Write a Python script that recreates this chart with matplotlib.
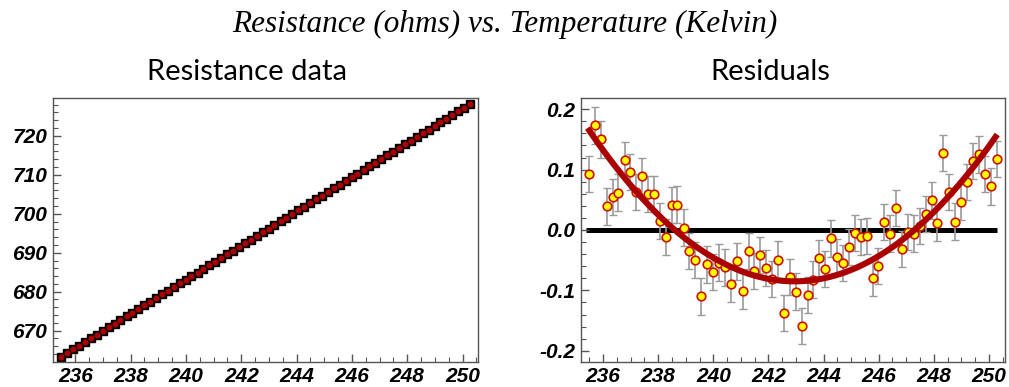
"""Resistance vs temperature: raw data and residuals of the linear fit."""

import matplotlib
matplotlib.use("Agg")
import matplotlib.pyplot as plt
import numpy as np
from matplotlib.ticker import MultipleLocator, FormatStrFormatter

# temperatures (K)
temperature = [
    235.49, 235.70, 235.92, 236.13, 236.35, 236.56, 236.78, 236.99, 237.20, 237.42,
    237.63, 237.85, 238.06, 238.28, 238.49, 238.70, 238.92, 239.13, 239.35, 239.56,
    239.78, 239.99, 240.20, 240.42, 240.63, 240.85, 241.06, 241.28, 241.49, 241.70,
    241.92, 242.13, 242.35, 242.56, 242.78, 242.99, 243.20, 243.42, 243.63, 243.85,
    244.06, 244.28, 244.49, 244.70, 244.92, 245.13, 245.35, 245.56, 245.78, 245.99,
    246.20, 246.42, 246.63, 246.85, 247.06, 247.28, 247.49, 247.70, 247.92, 248.13,
    248.35, 248.56, 248.78, 248.99, 249.20, 249.42, 249.63, 249.85, 250.06, 250.28,
]

# resistance (ohms)
resistance = [
    663.33, 664.27, 665.21, 666.15, 667.09, 668.02, 668.96, 669.90, 670.84, 671.78,
    672.72, 673.66, 674.60, 675.53, 676.47, 677.41, 678.35, 679.29, 680.23, 681.17,
    682.11, 683.04, 683.98, 684.92, 685.86, 686.80, 687.74, 688.68, 689.62, 690.56,
    691.49, 692.43, 693.37, 694.31, 695.25, 696.19, 697.13, 698.07, 699.00, 699.94,
    700.88, 701.82, 702.76, 703.70, 704.64, 705.58, 706.51, 707.45, 708.39, 709.33,
    710.27, 711.21, 712.15, 713.09, 714.03, 714.96, 715.90, 716.84, 717.78, 718.72,
    719.66, 720.60, 721.54, 722.47, 723.41, 724.35, 725.29, 726.23, 727.17, 728.11,
]

# residuals of the linear fit (ohms)
residuals = [
    0.093, 0.173, 0.150, 0.039, 0.054, 0.062, 0.116, 0.096, 0.063, 0.089,
    0.059, 0.059, 0.015, -0.012, 0.041, 0.042, 0.004, -0.035, -0.050, -0.110,
    -0.057, -0.069, -0.054, -0.062, -0.090, -0.052, -0.101, -0.035, -0.068, -0.042,
    -0.063, -0.081, -0.049, -0.138, -0.078, -0.102, -0.159, -0.107, -0.082, -0.047,
    -0.065, -0.014, -0.045, -0.055, -0.028, -0.005, -0.012, -0.010, -0.079, -0.060,
    0.013, -0.006, 0.037, -0.032, -0.003, -0.006, 0.006, 0.027, 0.049, 0.011,
    0.128, 0.063, 0.014, 0.046, 0.079, 0.114, 0.125, 0.093, 0.072, 0.117,
]
residual_error = 0.03

# quadratic fit to the residuals: a*(T - t0)**2 + c
quad_a = 0.0045
quad_t0 = 242.95
quad_c = -0.085

TICK_FONT = dict(family="Liberation Sans", weight="bold", style="italic", size=15)
FRAME_COLOR = "#555555"


def style_axes(ax):
    """Mathematica-like frame: grey border, inward ticks, bold italic labels."""
    for spine in ax.spines.values():
        spine.set_color(FRAME_COLOR)
        spine.set_linewidth(1.0)
    ax.tick_params(which="both", direction="in", color=FRAME_COLOR,
                   top=False, right=False, pad=4)
    ax.tick_params(which="major", length=6, width=1.0)
    ax.tick_params(which="minor", length=3.5, width=0.8)
    ax.xaxis.set_major_locator(MultipleLocator(2))
    ax.xaxis.set_minor_locator(MultipleLocator(0.5))
    for lab in ax.get_xticklabels() + ax.get_yticklabels():
        lab.set_fontproperties(matplotlib.font_manager.FontProperties(**TICK_FONT))


def main() -> None:
    fig = plt.figure(figsize=(10.09, 3.87), dpi=100)
    ax_left = fig.add_axes([0.0522, 0.0654, 0.4218, 0.6806])
    ax_right = fig.add_axes([0.5755, 0.0654, 0.4205, 0.6806])

    # left: raw resistance data
    ax_left.plot(temperature, resistance, "s", color="black", markersize=6.2,
                 linestyle="none", zorder=2)
    ax_left.plot(temperature, resistance, "o", color="#aa0000", markersize=3.4,
                 linestyle="none", zorder=3)
    ax_left.set_xlim(235.18, 250.57)
    ax_left.set_ylim(662.05, 729.6)
    ax_left.yaxis.set_major_locator(MultipleLocator(10))
    ax_left.yaxis.set_minor_locator(MultipleLocator(2))

    # right: residuals with error bars and quadratic trend
    t = np.array(temperature)
    ax_right.plot([t[0] - 0.1, t[-1] + 0.02], [0, 0], color="black", lw=3.6,
                  solid_capstyle="butt", zorder=1)
    ax_right.errorbar(t, residuals, yerr=residual_error, fmt="none",
                      ecolor="#9a9a9a", elinewidth=1.2, capsize=3, capthick=1.0,
                      zorder=2)
    ax_right.plot(t, residuals, "o", markerfacecolor="#ffff00",
                  markeredgecolor="#cc1100", markeredgewidth=1.2,
                  markersize=6.2, linestyle="none", zorder=3)
    tt = np.linspace(t[0] - 0.05, t[-1] + 0.02, 300)
    ax_right.plot(tt, quad_a * (tt - quad_t0) ** 2 + quad_c, color="#aa0000",
                  lw=4.4, solid_capstyle="butt", zorder=4)
    ax_right.set_xlim(235.19, 250.58)
    ax_right.set_ylim(-0.218, 0.218)
    ax_right.yaxis.set_major_locator(MultipleLocator(0.1))
    ax_right.yaxis.set_minor_locator(MultipleLocator(0.02))
    ax_right.yaxis.set_major_formatter(FormatStrFormatter("%.1f"))

    for ax in (ax_left, ax_right):
        style_axes(ax)

    fig.text(0.5, 0.938, "Resistance (ohms) vs. Temperature (Kelvin)",
             ha="center", va="center", family="Liberation Serif",
             style="italic", size=22.5)
    fig.text(0.245, 0.814, "Resistance data", ha="center", va="center",
             family="Lato", size=21)
    fig.text(0.763, 0.814, "Residuals", ha="center", va="center",
             family="Lato", size=21)

    fig.savefig("out.png", dpi=100)


if __name__ == "__main__":
    main()
